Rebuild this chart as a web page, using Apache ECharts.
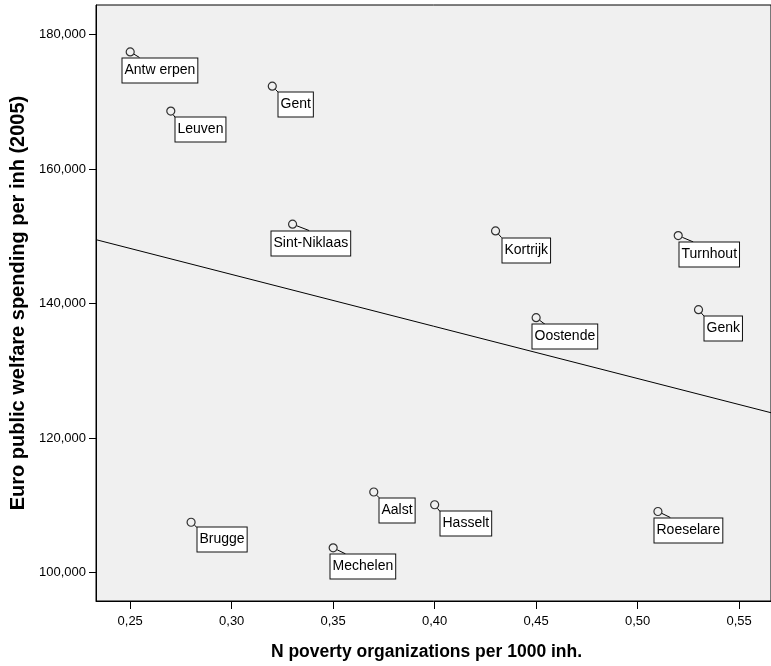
<!DOCTYPE html>
<html>
<head>
<meta charset="utf-8">
<script src="https://cdn.jsdelivr.net/npm/echarts@6/dist/echarts.min.js"></script>
<style>html,body{margin:0;padding:0;background:#fff}#c{width:771px;height:666px}</style>
</head>
<body>
<div id="c"></div>
<script>
// ---- data ----
const cities = ['Antw erpen','Leuven','Brugge','Gent','Sint-Niklaas','Mechelen','Aalst','Hasselt','Kortrijk','Oostende','Roeselare','Turnhout','Genk'];
const povertyOrgs = [0.25,0.27,0.28,0.32,0.33,0.35,0.37,0.40,0.43,0.45,0.51,0.52,0.53];
const welfareSpending = [177400,168600,107500,172300,151800,103700,112000,110100,150800,137900,109100,150100,139100];
const xTicks = [0.25,0.30,0.35,0.40,0.45,0.50,0.55];
const yTicks = [100000,120000,140000,160000,180000];
const xTitle = 'N poverty organizations per 1000 inh.';
const yTitle = 'Euro public welfare spending per inh (2005)';

// ---- label placement styling (px offsets of label box / leader end from the point) ----
const labelPlacement = {
  'Antw erpen':   [-8.4, 5.6, 9.3, 5.6],
  'Leuven':       [4.3, 6.3, 4.3, 6.3],
  'Brugge':       [5.7, 5.0, 5.7, 5.0],
  'Gent':         [5.6, 5.7, 5.6, 5.7],
  'Sint-Niklaas': [-21.4, 6.4, 16.6, 6.4],
  'Mechelen':     [-3.4, 6.0, 12.3, 6.0],
  'Aalst':        [5.3, 5.7, 5.3, 5.7],
  'Hasselt':      [5.3, 6.7, 5.3, 6.7],
  'Kortrijk':     [6.0, 6.7, 6.0, 6.7],
  'Oostende':     [-4.6, 6.7, 9.0, 6.7],
  'Roeselare':    [-4.3, 6.0, 12.4, 6.0],
  'Turnhout':     [0.7, 6.3, 15.0, 6.3],
  'Genk':         [5.3, 6.3, 5.3, 6.3]
};

const xMin = 0.23315, xMax = 0.56571;
const yMin = 95800, yMax = 184370;

// OLS fit line
const n = povertyOrgs.length;
const mx = povertyOrgs.reduce((a,b)=>a+b,0)/n;
const my = welfareSpending.reduce((a,b)=>a+b,0)/n;
let sxy = 0, sxx = 0;
for (let i=0;i<n;i++){ sxy += (povertyOrgs[i]-mx)*(welfareSpending[i]-my); sxx += (povertyOrgs[i]-mx)**2; }
const slope = sxy/sxx, intercept = my - slope*mx;
const fitData = [[xMin, intercept+slope*xMin],[xMax, intercept+slope*xMax]];

const points = povertyOrgs.map((x,i)=>[x, welfareSpending[i]]);
const FONT = '"Liberation Sans", Arial, sans-serif';

const chart = echarts.init(document.getElementById('c'), null, {renderer:'canvas'});
chart.setOption({
  animation: false,
  backgroundColor: '#ffffff',
  grid: {left: 96, top: 5, width: 677, height: 596, show: true, backgroundColor: '#f0f0f0', borderColor: '#000', borderWidth: 1},
  xAxis: {
    type: 'value', min: xMin, max: xMax,
    axisLine: {show: true, lineStyle: {color: '#000', width: 1}},
    axisTick: {show: true, length: 8, lineStyle: {color: '#000'}, customValues: xTicks},
    axisLabel: {customValues: xTicks, color: '#000', fontSize: 13, fontFamily: FONT, margin: 14,
      formatter: v => v.toFixed(2).replace('.', ',')},
    splitLine: {show: false},
    name: xTitle, nameLocation: 'middle', nameGap: 42,
    nameTextStyle: {color: '#000', fontWeight: 'bold', fontSize: 17.5, fontFamily: FONT, padding: [0, 14, 0, 0]}
  },
  yAxis: {
    type: 'value', min: yMin, max: yMax,
    axisLine: {show: true, lineStyle: {color: '#000', width: 1}},
    axisTick: {show: true, length: 7, lineStyle: {color: '#000'}, customValues: yTicks},
    axisLabel: {customValues: yTicks, color: '#000', fontSize: 13, fontFamily: FONT, margin: 10,
      formatter: v => Math.round(v).toLocaleString('en-US')},
    splitLine: {show: false},
    name: yTitle, nameLocation: 'middle', nameGap: 68, nameRotate: 90,
    nameTextStyle: {color: '#000', fontWeight: 'bold', fontSize: 20, fontFamily: FONT}
  },
  series: [
    {
      type: 'line', data: fitData, symbol: 'none', silent: true,
      lineStyle: {color: '#000', width: 1}, z: 2
    },
    {
      type: 'custom', data: points, clip: false, z: 3, silent: true,
      renderItem: function (params, api) {
        const i = params.dataIndex;
        const p = api.coord([api.value(0), api.value(1)]);
        const pl = labelPlacement[cities[i]];
        const bx = Math.round(p[0] + pl[0]) + 0.5;
        const by = Math.round(p[1] + pl[1]) + 0.5;
        const ax = p[0] + pl[2], ay = p[1] + pl[3];
        const dx = ax - p[0], dy = ay - p[1], d = Math.hypot(dx, dy);
        const r = 4.5;
        const children = [];
        if (d > r) {
          children.push({type: 'line', shape: {x1: p[0] + dx/d*r, y1: p[1] + dy/d*r, x2: ax, y2: ay},
            style: {stroke: '#000', lineWidth: 1}});
        }
        children.push({type: 'text', x: bx, y: by, style: {
          text: cities[i], fill: '#000', font: '14px ' + FONT, align: 'left', verticalAlign: 'top',
          backgroundColor: '#ffffff', borderColor: '#111', borderWidth: 1, padding: [4, 2, 4, 2], lineHeight: 16
        }});
        return {type: 'group', children: children};
      }
    },
    {
      type: 'scatter', data: points, symbol: 'circle', symbolSize: 8, z: 4, silent: true,
      itemStyle: {color: 'rgba(0,0,0,0)', borderColor: '#000', borderWidth: 1.2}
    }
  ]
});
</script>
</body>
</html>
